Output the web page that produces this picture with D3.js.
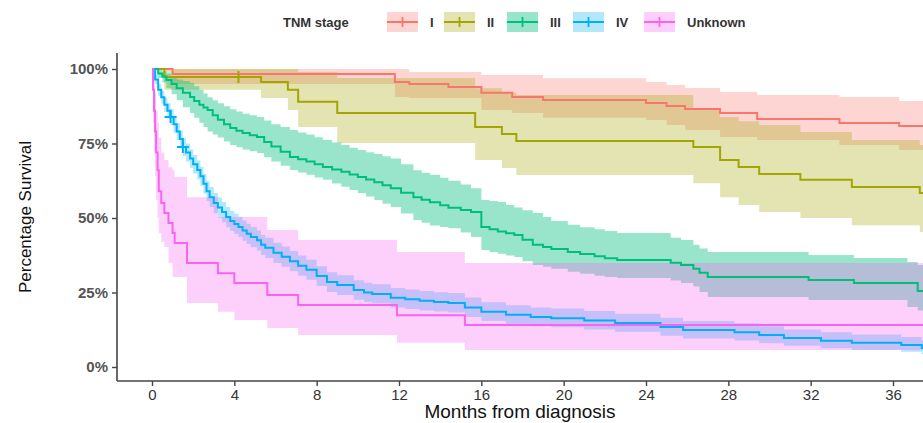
<!DOCTYPE html>
<html>
<head>
<meta charset="utf-8">
<script src="https://cdn.jsdelivr.net/npm/d3@7"></script>
<style>
  body { margin: 0; background: #fff; }
  svg { display: block; }
  text { font-family: "Liberation Sans", Arial, sans-serif; }
</style>
</head>
<body>
<script>
// groups and colours
var stages = ["I", "II", "III", "IV", "Unknown"]
var colores = ["#F8766D", "#A3A500", "#00BF7D", "#00B0F6", "#F863F2"]

// [month, survival, lower, upper]
var stageI = [
  [0, 1, 1, 1], [1.0, .983, .95, 1], [11.8, .956, .906, 1], [12.5, .95, .903, .99],
  [14.4, .94, .903, .99], [16, .92, .862, .98], [17.5, .906, .852, .98], [19, .896, .836, .969],
  [24, .886, .829, .956], [25, .876, .812, .946], [25.9, .866, .795, .936], [27.6, .852, .772, .923],
  [29.4, .832, .762, .913], [33.4, .819, .745, .906], [36.3, .809, .728, .893], [38, .809, .728, .893]
]
var stageII = [
  [0, 1, 1, 1], [0.6, .973, .93, 1], [5.3, .956, .903, 1], [6.6, .93, .862, 1],
  [7.1, .89, .805, .99], [9, .852, .752, .97], [15.7, .805, .695, .935], [17, .782, .668, .92],
  [17.7, .758, .644, .913], [26.3, .738, .617, .869], [27.6, .695, .57, .839], [28.5, .671, .544, .825],
  [29.5, .648, .52, .812], [31.5, .628, .50, .789], [34, .604, .476, .762], [37.3, .584, .453, .745],
  [38, .584, .453, .745]
]
var stageIII = [
  [0, 1, 1, 1], [0.3, .985, .97, 1], [0.5, .975, .955, .993], [0.7, .963, .935, .985],
  [0.95, .95, .915, .975], [1.2, .935, .895, .965], [1.5, .92, .872, .96], [1.85, .906, .852, .953],
  [2.05, .893, .836, .942], [2.3, .88, .82, .93], [2.5, .871, .805, .918], [2.7, .862, .79, .905],
  [2.95, .845, .78, .895], [3.2, .83, .77, .885], [3.5, .815, .757, .875], [3.8, .802, .745, .865],
  [4.1, .793, .737, .857], [4.4, .785, .73, .85], [4.75, .778, .724, .845], [5.1, .772, .718, .839],
  [5.45, .755, .704, .827], [5.8, .74, .69, .815], [6.25, .722, .675, .805], [6.7, .705, .661, .795],
  [7.1, .697, .653, .787], [7.5, .69, .645, .78], [7.9, .68, .636, .771], [8.3, .671, .628, .762],
  [8.75, .663, .616, .753], [9.2, .655, .605, .745], [9.6, .646, .594, .736], [10, .638, .584, .728],
  [10.4, .629, .572, .721], [10.8, .62, .56, .715], [11.2, .61, .548, .707], [11.6, .60, .537, .70],
  [12.1, .585, .515, .68], [12.7, .57, .493, .66], [13.1, .561, .484, .652], [13.5, .553, .475, .645],
  [14.0, .543, .47, .635], [14.4, .534, .466, .625], [15.0, .527, .451, .612], [15.5, .52, .436, .60],
  [16, .47, .393, .56], [16.4, .462, .386, .557], [16.8, .455, .38, .554], [17.2, .449, .374, .544],
  [17.6, .443, .369, .535], [18.0, .427, .355, .526], [18.5, .41, .342, .517], [19.0, .403, .336, .503],
  [19.4, .396, .33, .49], [20.2, .386, .32, .477], [20.8, .379, .313, .469], [21.5, .372, .306, .462],
  [22.0, .365, .302, .456], [22.6, .359, .299, .45], [25.2, .35, .29, .434], [25.7, .342, .282, .426],
  [26.3, .33, .27, .41], [26.6, .316, .252, .398], [27, .302, .235, .386], [31.9, .292, .225, .376],
  [34.1, .282, .225, .366], [36.7, .282, .201, .352], [37.2, .255, .19, .342], [38, .255, .19, .342]
]
var stageIV = [
  [0, 1, 1, 1], [0.15, .965, .95, .98], [0.3, .93, .91, .95], [0.45, .905, .883, .927],
  [0.6, .88, .856, .904], [0.75, .86, .835, .885], [0.9, .839, .812, .866], [1.05, .815, .787, .843],
  [1.2, .79, .762, .818], [1.35, .765, .736, .794], [1.5, .738, .708, .768], [1.65, .72, .69, .75],
  [1.85, .70, .669, .731], [2.0, .68, .649, .711], [2.2, .661, .629, .693], [2.35, .64, .608, .672],
  [2.5, .615, .582, .648], [2.65, .59, .557, .623], [2.8, .57, .537, .604], [3.0, .55, .516, .584],
  [3.2, .535, .501, .569], [3.4, .52, .486, .554], [3.6, .503, .469, .537], [3.8, .49, .456, .524],
  [4.0, .48, .446, .514], [4.2, .47, .436, .504], [4.4, .458, .424, .492], [4.6, .447, .413, .481],
  [4.8, .436, .402, .47], [5.1, .425, .391, .459], [5.3, .41, .376, .444], [5.5, .40, .366, .434],
  [5.9, .383, .349, .417], [6.3, .37, .336, .404], [6.7, .355, .321, .389], [7.1, .34, .306, .374],
  [7.5, .326, .293, .36], [8.0, .305, .272, .338], [8.5, .285, .252, .318], [9.0, .275, .242, .308],
  [9.8, .258, .226, .291], [10.3, .25, .218, .283], [10.7, .245, .213, .278], [11.6, .232, .2, .265],
  [12.3, .227, .195, .26], [13, .222, .19, .255], [13.7, .218, .186, .251], [14.4, .215, .183, .248],
  [15.2, .20, .168, .233], [16, .185, .154, .217], [17.2, .175, .144, .207], [18.4, .168, .137, .2],
  [19.4, .164, .133, .196], [21, .156, .126, .188], [22.5, .148, .118, .179], [24.7, .134, .105, .165],
  [25.8, .124, .096, .154], [28.3, .117, .089, .147], [29.5, .107, .08, .137], [30.7, .097, .071, .126],
  [32.5, .088, .063, .117], [34, .081, .057, .109], [36.4, .074, .051, .101], [37.4, .064, .043, .09],
  [38, .064, .043, .09]
]
var stageUnknown = [
  [0, 1, 1, 1], [0.05, .93, .82, 1], [0.1, .86, .72, .98], [0.15, .79, .64, .92],
  [0.2, .72, .56, .86], [0.27, .66, .50, .82], [0.33, .59, .45, .77], [0.45, .55, .42, .72],
  [0.6, .517, .403, .695], [0.8, .483, .35, .67], [1.0, .45, .302, .66], [1.1, .416, .302, .638],
  [1.7, .349, .215, .57], [3.2, .315, .185, .503], [4.0, .282, .158, .503], [5.6, .242, .131, .46],
  [7.1, .208, .107, .426], [11.9, .174, .081, .386], [15.2, .141, .057, .349], [38, .141, .057, .349]
]
var datos = [stageI, stageII, stageIII, stageIV, stageUnknown]

// censored marks [stage index, month, survival]
var censuras = [[1, 4.2, .973], [3, 0.9, .839], [3, 1.5, .738]]

var xTicks = [0, 4, 8, 12, 16, 20, 24, 28, 32, 36]
var yTicks = [0, 0.25, 0.5, 0.75, 1]

var width = 923
var height = 423
var margin = {top: 53, bottom: 381, left: 117, right: 923}

var svg = d3.select("body").append("svg")
  .attr("width", width)
  .attr("height", height)

var escalaX = d3.scaleLinear().domain([0, 36]).range([152, 893])
var escalaY = d3.scaleLinear().domain([0, 1]).range([367, 69])

svg.append("clipPath").attr("id", "clip")
  .append("rect")
  .attr("x", margin.left).attr("y", margin.top)
  .attr("width", margin.right - margin.left).attr("height", margin.bottom - margin.top)

var plot = svg.append("g").attr("clip-path", "url(#clip)")

var area = d3.area()
  .curve(d3.curveStepAfter)
  .x(d => escalaX(d[0]))
  .y0(d => escalaY(d[2]))
  .y1(d => escalaY(d[3]))

var linea = d3.line()
  .curve(d3.curveStepAfter)
  .x(d => escalaX(d[0]))
  .y(d => escalaY(d[1]))

// bands
datos.forEach(function(serie, i) {
  plot.append("path")
    .attr("d", area(serie))
    .attr("fill", colores[i])
    .attr("fill-opacity", i == 2 ? 0.4 : 0.3)
})

// lines
datos.forEach(function(serie, i) {
  plot.append("path")
    .attr("d", linea(serie))
    .attr("fill", "none")
    .attr("stroke", colores[i])
    .attr("stroke-width", 2)
})

// censor marks
censuras.forEach(function(c) {
  var cx = escalaX(c[1]), cy = escalaY(c[2])
  plot.append("path")
    .attr("d", "M" + (cx - 6) + "," + cy + "h12M" + cx + "," + (cy - 6) + "v12")
    .attr("stroke", colores[c[0]])
    .attr("stroke-width", 2)
})

// axes
var ejeY = d3.axisLeft(escalaY).tickValues(yTicks).tickFormat(d3.format(".0%")).tickSize(5).tickPadding(4)
var gY = svg.append("g").attr("transform", "translate(" + margin.left + ",0)").call(ejeY)
gY.select(".domain").attr("d", "M0," + margin.top + "V" + margin.bottom)

var ejeX = d3.axisBottom(escalaX).tickValues(xTicks).tickSize(5).tickPadding(3)
var gX = svg.append("g").attr("transform", "translate(0," + margin.bottom + ")").call(ejeX)
gX.select(".domain").attr("d", "M" + margin.left + ",0H" + margin.right)

svg.selectAll(".domain").attr("stroke", "#444").attr("stroke-width", 1.6)
svg.selectAll(".tick line").attr("stroke", "#444").attr("stroke-width", 1.4)
gY.selectAll(".tick text").attr("font-size", 15).attr("font-weight", "bold").attr("fill", "#555")
  .style("font-family", "'Liberation Sans', Arial, sans-serif")
gX.selectAll(".tick text").attr("font-size", 15).attr("fill", "#333")
  .style("font-family", "'Liberation Sans', Arial, sans-serif")

svg.append("text")
  .attr("x", 520).attr("y", 418)
  .attr("text-anchor", "middle")
  .attr("font-size", 19)
  .attr("fill", "#111")
  .text("Months from diagnosis")

svg.append("text")
  .attr("transform", "translate(31,217) rotate(-90)")
  .attr("text-anchor", "middle")
  .attr("font-size", 17)
  .attr("fill", "#111")
  .style("font-family", "'Liberation Sans Narrow', 'Liberation Sans', Arial, sans-serif")
  .text("Percentage Survival")

// legend
var leyenda = svg.append("g")
leyenda.append("text")
  .attr("x", 283).attr("y", 27)
  .attr("font-size", 13).attr("font-weight", "bold").attr("fill", "#333")
  .text("TNM stage")

var posX = [387, 444, 507, 573, 644]
stages.forEach(function(s, i) {
  var g = leyenda.append("g").attr("transform", "translate(" + posX[i] + ",12)")
  g.append("rect").attr("width", 31).attr("height", 20)
    .attr("fill", colores[i]).attr("fill-opacity", i == 2 ? 0.4 : 0.3)
  g.append("path").attr("d", "M0,10H31M15.5,5V15")
    .attr("stroke", colores[i]).attr("stroke-width", 1.8)
  g.append("text").attr("x", 43).attr("y", 15)
    .attr("font-size", 13).attr("font-weight", "bold").attr("fill", "#333")
    .text(s)
})
</script>
</body>
</html>
